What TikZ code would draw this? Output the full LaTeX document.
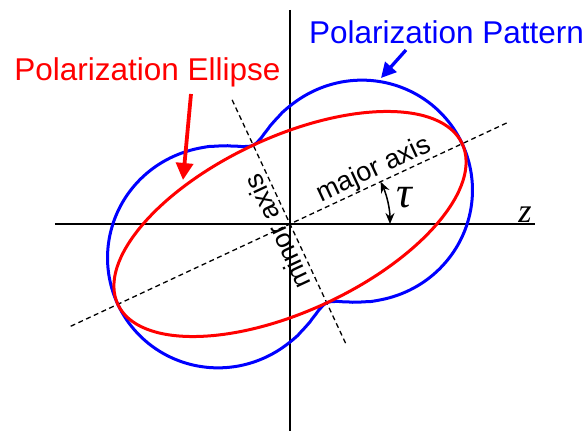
\documentclass[tikz,border=0pt]{standalone}
\usepackage{fontspec}
\setmainfont{Liberation Sans}
\newfontfamily\tms{Liberation Serif}
\usetikzlibrary{arrows.meta}
\begin{document}
\begin{tikzpicture}[x=1pt,y=1pt,
  axisline/.style={line width=2.2pt},
  dashline/.style={line width=1.3pt,dash pattern=on 5pt off 3.5pt},
  curve/.style={line width=3pt},
  title/.style={font=\fontsize{31.5}{36}\selectfont,anchor=base,inner sep=0pt},
  axlabel/.style={font=\fontsize{27}{30}\selectfont,inner sep=0pt},
  sym/.style={font=\tms\itshape\fontsize{34}{36}\selectfont,inner sep=0pt}]
\useasboundingbox (-290,-207) rectangle (297,224);
% axes
\coordinate (vtop) at (0,214);
\coordinate (vbot) at (0,-207);
\coordinate (hleft) at (-235,0);
\coordinate (hright) at (245,0);
\draw[axisline] (vtop) -- (vbot);
\draw[axisline] (hleft) -- (hright);
% dashed axes
\coordinate (majA) at (205:242);
\coordinate (majB) at (25:240);
\coordinate (minA) at (115:137);
\coordinate (minB) at (-65:132);
\draw[dashline] (majA) -- (majB);
\draw[dashline] (minA) -- (minB);
% pattern
\draw[blue,curve,rotate=25] plot[domain=0:360,samples=241,smooth cycle]
  (\x:{87+103*(pow(cos(\x)*cos(\x)+0.01,0.65)-0.0501)/0.9564});
% ellipse
\draw[red,curve,rotate=25] (0,0) ellipse [x radius=190pt,y radius=87pt];
% labels
\node[title,red] (ellLabel) at (-142.5,143) {Polarization Ellipse};
\node[title,blue] (patLabel) at (156.5,180) {Polarization Pattern};
\coordinate (redS) at (-99,130);
\coordinate (redT) at (-107,44);
\draw[red,line width=3.8pt,-{Triangle[length=17pt,width=17pt]}] (redS) -- (redT);
\coordinate (blueS) at (116,174);
\coordinate (blueT) at (91,146);
\draw[blue,line width=3.3pt,-{Triangle[length=15pt,width=15pt]}] (blueS) -- (blueT);
\node[axlabel,rotate=25] (majLabel) at (84,54) {major axis};
\node[axlabel,rotate=115] (minLabel) at (-13,-8) {minor axis};
% tau
\coordinate (tauA) at (0:100);
\draw[line width=1.5pt,{Stealth[length=11pt,width=9pt]}-{Stealth[length=11pt,width=9pt]}] (tauA) arc[start angle=0,end angle=25,radius=100pt];
\node[sym,font=\tms\itshape\fontsize{44}{46}\selectfont] (tau) at (114,26) {τ};
\node[sym,anchor=base] (zlab) at (235,1) {z};
\end{tikzpicture}
\end{document}
